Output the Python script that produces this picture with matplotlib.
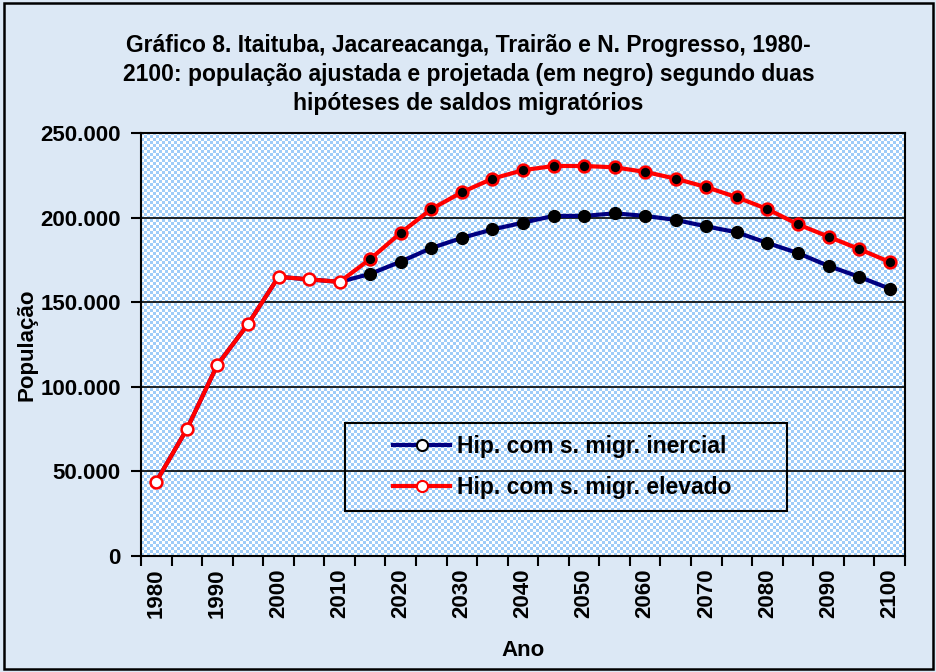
import numpy as np
import matplotlib
matplotlib.use('Agg')
from matplotlib import pyplot as plt
from matplotlib import font_manager
from matplotlib.lines import Line2D
from matplotlib.patches import Rectangle
from matplotlib.ticker import FuncFormatter

# pick a family that really has a bold face installed
familia = 'DejaVu Sans'
for f in ['Liberation Sans', 'Roboto', 'Noto Sans', 'Open Sans', 'Lato', 'Inter']:
    try:
        path = font_manager.findfont(font_manager.FontProperties(family=f, weight='bold'),
                                     fallback_to_default=False)
        if 'bold' in path.lower():
            familia = f
            break
    except Exception:
        pass
plt.rcParams['font.family'] = [familia, 'DejaVu Sans']
plt.rcParams['font.weight'] = 'bold'

# %% dados (populacao em milhares)
anos = [1980, 1985, 1990, 1995, 2000, 2005, 2010, 2015, 2020, 2025, 2030, 2035, 2040,
        2045, 2050, 2055, 2060, 2065, 2070, 2075, 2080, 2085, 2090, 2095, 2100]
pop_inercial = [44, 75, 113, 137, 165, 163.5, 162, 166.7, 174, 182, 188, 193, 197,
                201, 201, 202.5, 201, 198.6, 194.8, 191.3, 185, 179, 171.4, 165, 158]
pop_elevado = [44, 75, 113, 137, 165, 163.5, 162, 175.5, 191, 205, 215, 223, 228,
               230.5, 230.5, 229.7, 227, 223, 218, 212, 205, 196, 188.7, 181.4, 173.8]
ultimo_obs = 2010
rotulos = [str(a) if a % 10 == 0 else '' for a in anos]

pop_inercial = np.array(pop_inercial) * 1000
pop_elevado = np.array(pop_elevado) * 1000
x = np.arange(len(anos))
obs = np.array(anos) <= ultimo_obs
proj = ~obs

# %%
fig = plt.figure(figsize=(9.37, 6.72), dpi=100)
fig.patch.set_facecolor('#dce8f5')
fig.patches.append(Rectangle((0.004, 0.005), 0.992, 0.99, transform=fig.transFigure,
                             fill=False, edgecolor='black', linewidth=1.8))

ax = fig.add_axes([0.1505, 0.1726, 0.8153, 0.6295])
ax.set_xlim(-0.5, len(anos) - 0.5)
ax.set_ylim(0, 250000)

# fundo quadriculado
chk = (np.indices((141, 255)).sum(axis=0) % 2).astype(float)
cmap = matplotlib.colors.ListedColormap(['#9fccf8', '#ffffff'])
ax.imshow(chk, cmap=cmap, interpolation='nearest', aspect='auto',
          extent=(-0.5, len(anos) - 0.5, 0, 250000), zorder=0)

for yv in [50000, 100000, 150000, 200000]:
    ax.axhline(yv, color='black', lw=1.2, zorder=1)

ax.plot(x, pop_inercial, color='#000080', lw=3, zorder=3)
ax.plot(x[proj], pop_inercial[proj], 'o', ms=8.5, mfc='black', mec='black', zorder=4)
ax.plot(x, pop_elevado, color='#ff0000', lw=3, zorder=5)
ax.plot(x[obs], pop_elevado[obs], 'o', ms=8.5, mfc='white', mec='#ff0000', mew=1.8, zorder=6)
ax.plot(x[proj], pop_elevado[proj], 'o', ms=8.5, mfc='black', mec='#ff0000', mew=1.8, zorder=6)

for s in ax.spines.values():
    s.set_linewidth(1.5)

ax.set_xticks(np.arange(len(anos) + 1) - 0.5)
ax.set_xticklabels([])
ax.set_xticks(x, minor=True)
ax.set_xticklabels(rotulos, minor=True, rotation=90, fontsize=16, fontweight='bold')
ax.tick_params(axis='x', which='major', length=7, width=1.5, direction='out')
ax.tick_params(axis='x', which='minor', length=0, pad=9)

ax.set_yticks(np.arange(0, 250001, 50000))
ax.yaxis.set_major_formatter(FuncFormatter(lambda v, p: f'{int(v):,}'.replace(',', '.')))
ax.tick_params(axis='y', length=7, width=1.5, direction='out', labelsize=16, pad=7.5)
for t in ax.get_yticklabels():
    t.set_fontweight('bold')

ax.set_xlabel('Ano', fontsize=16, fontweight='bold', labelpad=16)
ax.set_ylabel('População', fontsize=16, fontweight='bold')
ax.yaxis.set_label_coords(-0.136, 0.5)

fig.text(0.5, 0.949, 'Gráfico 8. Itaituba, Jacareacanga, Trairão e N. Progresso, 1980-\n'
         '2100: população ajustada e projetada (em negro) segundo duas\n'
         'hipóteses de saldos migratórios',
         ha='center', va='top', fontsize=16.5, fontweight='bold', linespacing=1.33)

# caixa da legenda
ax.add_patch(Rectangle((0.267, 0.1064), 0.5785, 0.208, transform=ax.transAxes,
                       fill=False, edgecolor='black', linewidth=1.5, zorder=7))
handles = [Line2D([], [], color='#000080', lw=3, marker='o', ms=8, mfc='white', mec='black', mew=1.5),
           Line2D([], [], color='#ff0000', lw=3, marker='o', ms=8, mfc='white', mec='#ff0000', mew=1.5)]
leg = ax.legend(handles, ['Hip. com s. migr. inercial', 'Hip. com s. migr. elevado'],
                loc='center left', bbox_to_anchor=(0.33, 0.21), fontsize=16.5, frameon=False,
                handlelength=2.5, handletextpad=0.3, borderpad=0, labelspacing=0.8,
                borderaxespad=0)
leg.set_zorder(7)

fig.savefig('out.png', dpi=100, facecolor=fig.get_facecolor())
